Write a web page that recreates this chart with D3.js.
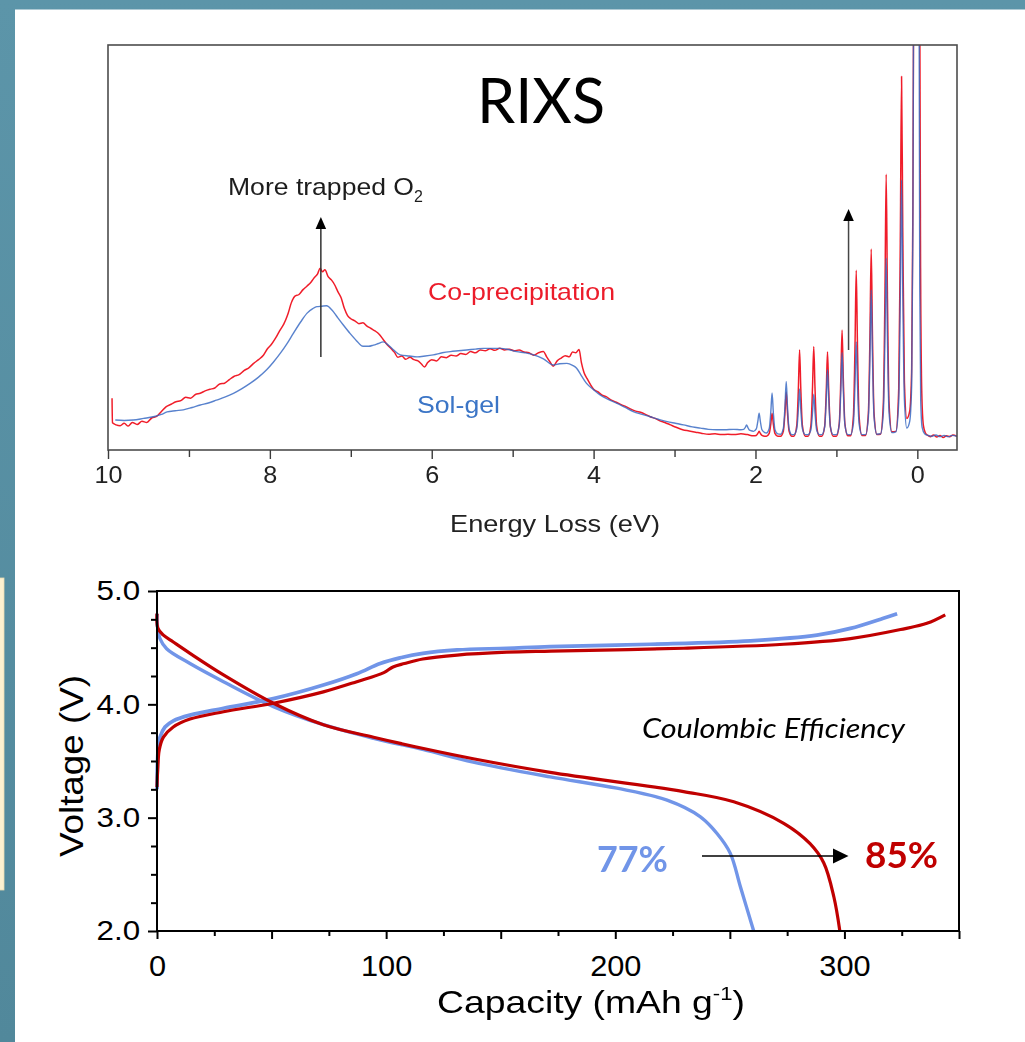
<!DOCTYPE html>
<html>
<head>
<meta charset="utf-8">
<script src="https://cdn.jsdelivr.net/npm/d3@7"></script>
<style>
  html, body { margin: 0; padding: 0; background: #5b93a7; }
  svg { display: block; }
</style>
</head>
<body>
<svg id="slide" width="1025" height="1042"></svg>
<script>
// ---------- RIXS spectra: [energy loss (eV), intensity (a.u.)] ----------
const coPrecipBroad = [
  [9.95,12.8],[9.945,6.7],[9.9,6.2],[9.85,6.0],[9.8,6.6],[9.75,5.9],[9.7,6.8],[9.64,6.3],[9.58,7.1],
  [9.52,6.8],[9.46,7.9],[9.4,8.3],[9.34,9.5],[9.28,10.7],[9.22,11.3],[9.16,11.9],[9.1,12.2],[9.04,13.0],
  [8.98,12.8],[8.92,13.7],[8.86,14.0],[8.8,14.6],[8.74,15.0],[8.68,15.3],[8.62,16.3],[8.56,16.5],
  [8.5,17.4],[8.44,18.2],[8.38,18.6],[8.32,19.6],[8.26,20.3],[8.2,21.4],[8.14,22.3],[8.08,23.4],
  [8.03,25.0],[7.98,26.1],[7.93,27.6],[7.88,29.4],[7.83,31.0],[7.78,33.4],[7.73,36.6],[7.69,38.0],
  [7.64,38.4],[7.59,39.6],[7.54,40.5],[7.49,41.5],[7.45,42.6],[7.41,43.5],[7.38,44.9],[7.35,44.0],
  [7.32,44.5],[7.28,42.8],[7.24,42.0],[7.2,40.8],[7.16,39.1],[7.12,37.6],[7.08,35.0],[7.04,33.2],
  [7.0,32.4],[6.95,31.9],[6.9,31.2],[6.85,31.4],[6.8,30.6],[6.75,30.0],[6.7,29.4],[6.65,28.6],
  [6.6,27.3],[6.55,26.0],[6.5,25.0],[6.46,24.1],[6.42,22.9],[6.37,23.2],[6.32,22.4],[6.27,22.9],
  [6.22,22.3],[6.17,22.0],[6.13,21.3],[6.09,20.5],[6.05,21.6],[6.0,22.3],[5.94,22.0],[5.88,23.0],
  [5.82,22.8],[5.76,23.4],[5.7,23.2],[5.64,23.8],[5.58,23.6],[5.52,24.3],[5.46,24.0],[5.4,24.7],
  [5.34,24.5],[5.28,25.0],[5.22,24.6],[5.16,25.1],[5.1,24.7],[5.04,24.9],[4.98,24.5],[4.92,24.7],
  [4.86,24.2],[4.8,24.0],[4.74,23.4],[4.68,24.0],[4.62,24.3],[4.58,23.0],[4.54,21.8],[4.5,20.7],
  [4.45,22.0],[4.4,22.7],[4.35,23.3],[4.3,23.0],[4.26,24.2],[4.22,24.0],[4.18,24.8],[4.15,21.5],
  [4.12,19.2],[4.08,17.6],[4.04,16.2],[4.0,15.0],[3.95,14.4],[3.9,13.6],[3.84,13.1],[3.78,12.3],
  [3.72,11.8],[3.66,11.2],[3.6,10.7],[3.54,10.1],[3.48,9.6],[3.42,9.3],[3.36,8.8],[3.3,8.2],
  [3.24,7.8],[3.18,7.2],[3.12,6.8],[3.05,6.2],[2.98,5.6],[2.9,5.0],[2.82,4.7],[2.74,4.4],[2.66,4.1],
  [2.58,3.9],[2.5,4.0],[2.42,3.8],[2.34,3.9],[2.26,3.8],[2.18,4.0],[2.1,3.8]
];
const solGelBroad = [
  [9.91,7.4],[9.8,7.3],[9.69,7.4],[9.56,7.8],[9.44,8.2],[9.34,8.8],[9.27,9.4],[9.17,9.7],[9.07,9.9],
  [8.96,10.5],[8.86,11.1],[8.76,11.6],[8.66,12.3],[8.55,13.1],[8.45,14.0],[8.35,15.1],[8.24,16.5],
  [8.14,18.0],[8.04,19.8],[7.96,21.6],[7.87,23.9],[7.79,26.2],[7.71,28.8],[7.62,31.6],[7.54,33.8],
  [7.47,34.9],[7.42,35.4],[7.36,35.5],[7.3,35.6],[7.23,34.5],[7.17,32.9],[7.09,30.8],[7.01,28.8],
  [6.93,27.0],[6.85,25.6],[6.78,25.6],[6.72,25.9],[6.66,26.3],[6.6,26.7],[6.53,25.8],[6.47,24.7],
  [6.39,23.5],[6.28,23.2],[6.18,23.0],[6.08,23.2],[5.98,23.5],[5.87,24.0],[5.77,24.3],[5.67,24.5],
  [5.57,24.7],[5.46,24.9],[5.36,25.1],[5.25,25.1],[5.15,25.1],[5.05,24.8],[4.95,24.3],[4.85,24.0],
  [4.74,23.5],[4.62,22.5],[4.5,21.0],[4.42,21.3],[4.33,21.4],[4.26,20.9],[4.21,20.2],[4.15,18.3],
  [4.09,16.5],[4.0,14.9],[3.92,13.6],[3.82,12.5],[3.71,11.5],[3.61,10.5],[3.51,9.5],[3.4,8.8],
  [3.3,8.2],[3.2,7.6],[3.09,7.0],[2.99,6.6],[2.89,6.2],[2.78,5.7],[2.68,5.4],[2.58,5.1],[2.48,5.0],
  [2.38,5.0],[2.27,5.1]
];
// Vibrational progression and the elastic line near 0 eV
const coPrecipPeaks = [
  [2.025,3.5],[1.99,3.6],[1.97,4.1],[1.955,4.6],[1.94,4.1],[1.92,3.6],[1.885,3.4],
  [1.865,3.4],[1.83,4.1],[1.81,6.5],[1.795,9.1],[1.78,6.5],[1.76,4.1],[1.725,3.4],
  [1.69,3.4],[1.655,4.7],[1.635,9.4],[1.62,14.3],[1.605,9.4],[1.585,4.7],[1.55,3.4],
  [1.525,3.4],[1.49,6.0],[1.47,15.1],[1.455,24.7],[1.44,15.1],[1.42,6.0],[1.385,3.4],
  [1.35,3.4],[1.315,6.1],[1.295,15.6],[1.28,25.5],[1.265,15.6],[1.245,6.1],[1.21,3.4],
  [1.18,3.4],[1.145,5.9],[1.125,14.8],[1.11,24.2],[1.095,14.8],[1.075,5.9],[1.04,3.4],
  [1.0,3.4],[0.965,6.5],[0.945,17.8],[0.93,29.6],[0.915,17.8],[0.895,6.5],[0.86,3.5],
  [0.825,3.5],[0.79,8.4],[0.77,26.0],[0.755,44.4],[0.74,26.0],[0.72,8.4],[0.685,3.6],
  [0.64,3.6],[0.605,9.1],[0.585,28.9],[0.57,49.6],[0.555,28.9],[0.535,9.1],[0.5,3.8],
  [0.455,3.9],[0.42,11.6],[0.40,39.0],[0.385,68.1],[0.37,39.0],[0.35,11.8],[0.315,4.5],
  [0.265,4.6],[0.23,15.2],[0.21,53.0],[0.195,92.2],[0.18,54.0],[0.16,17.0],[0.13,7.8],
  [0.095,9.5],[0.07,20],[0.055,60],[0.045,120],[0.03,200],[0.0,210],[-0.02,200],[-0.03,110],
  [-0.04,45],[-0.055,14],[-0.075,6.0],[-0.1,4.2],[-0.13,3.6],[-0.16,3.3],[-0.2,3.7],[-0.24,3.2],
  [-0.28,3.6],[-0.32,3.1],[-0.36,3.5],[-0.4,3.3],[-0.44,3.7],[-0.49,3.4]
];
const solGelPeaks = [
  [2.18,5.0],[2.145,5.1],[2.125,5.6],[2.11,6.2],[2.095,5.6],[2.075,4.9],[2.04,4.7],
  [2.025,4.6],[1.99,5.2],[1.97,7.2],[1.955,9.1],[1.94,7.1],[1.92,5.0],[1.885,4.3],
  [1.865,4.2],[1.83,5.3],[1.81,9.6],[1.795,14.1],[1.78,9.5],[1.76,5.1],[1.725,4.0],
  [1.69,3.9],[1.655,5.4],[1.635,11.0],[1.62,16.9],[1.605,10.9],[1.585,5.3],[1.55,3.8],
  [1.525,3.8],[1.49,5.2],[1.47,10.0],[1.455,15.1],[1.44,10.0],[1.42,5.2],[1.385,3.8],
  [1.35,3.8],[1.315,5.0],[1.295,9.3],[1.28,13.8],[1.265,9.3],[1.245,5.0],[1.21,3.8],
  [1.18,3.8],[1.145,5.7],[1.125,12.6],[1.11,19.8],[1.095,12.6],[1.075,5.7],[1.04,3.8],
  [1.0,3.8],[0.965,6.2],[0.945,14.9],[0.93,24.0],[0.915,14.9],[0.895,6.2],[0.86,3.8],
  [0.825,3.8],[0.79,6.5],[0.77,16.4],[0.755,26.7],[0.74,16.4],[0.72,6.5],[0.685,3.8],
  [0.64,3.8],[0.605,8.1],[0.585,23.4],[0.57,39.5],[0.555,23.4],[0.535,8.1],[0.5,3.9],
  [0.455,4.0],[0.42,9.2],[0.40,27.9],[0.385,47.4],[0.37,27.9],[0.35,9.4],[0.315,4.3],
  [0.265,4.5],[0.23,11.9],[0.21,38.7],[0.195,66.7],[0.18,38.9],[0.16,12.5],[0.13,5.4],
  [0.095,7.0],[0.07,16],[0.055,55],[0.045,120],[0.03,200],[0.0,210],[-0.015,200],[-0.022,110],
  [-0.03,40],[-0.042,12],[-0.06,5.5],[-0.09,4.0],[-0.13,3.6],[-0.18,3.4],[-0.23,3.7],[-0.28,3.3],
  [-0.33,3.6],[-0.38,3.3],[-0.43,3.6],[-0.49,3.4]
];
const energyTicks = [10,9,8,7,6,5,4,3,2,1,0];
const energyLabels = [10,8,6,4,2,0];

// ---------- Charge / discharge profiles: [capacity (mAh/g), voltage (V)] ----------
const solGelCharge = [
  [0,3.25],[0.15,3.45],[0.5,3.6],[1.3,3.71],[3.5,3.80],[7.1,3.855],[14.4,3.905],[29,3.965],
  [50.8,4.05],[72.6,4.17],[87.2,4.27],[97.4,4.36],[106,4.41],[116,4.45],[131,4.48],[152.7,4.495],
  [171.6,4.51],[215.3,4.53],[259,4.56],[288,4.61],[302.6,4.67],[317,4.76],[323,4.80]
];
const solGelDischarge = [
  [0,4.80],[0.3,4.67],[1.3,4.58],[4.2,4.49],[14.4,4.36],[29,4.20],[50.8,3.98],[72.6,3.82],
  [94.5,3.70],[116.3,3.60],[138,3.49],[171.6,3.36],[200.7,3.26],[222.6,3.155],[237,3.01],
  [244.4,2.86],[250.2,2.685],[254.6,2.39],[260.4,2.0]
];
const coPrecipCharge = [
  [0,3.27],[0.3,3.42],[1,3.60],[2.8,3.71],[7.1,3.80],[14.4,3.87],[29,3.935],[50.8,4.01],
  [72.6,4.11],[87.2,4.20],[99,4.28],[103,4.33],[108,4.36],[116,4.40],[131,4.435],[152.7,4.46],
  [172,4.47],[229.8,4.495],[273.5,4.53],[302.6,4.58],[324.5,4.66],[336,4.715],[344,4.79]
];
const coPrecipDischarge = [
  [0,4.80],[0.4,4.67],[2.8,4.61],[7.1,4.55],[14.4,4.45],[29,4.26],[50.8,4.01],[72.6,3.82],
  [94.5,3.71],[116.3,3.61],[138,3.52],[171.6,3.40],[229.8,3.23],[251.7,3.14],[273.5,2.95],
  [285,2.77],[291,2.60],[295.4,2.30],[298,2.0]
];
const efficiencyLabels = ["77%", "85%"];
const voltageTicks = d3.range(2, 5.0001, 0.25);
const capacityTicks = d3.range(0, 350.001, 25);
const capacityLabels = [0, 100, 200, 300];

const svg = d3.select("#slide");
const helv = "Liberation Sans, Arial, sans-serif";
const humanist = "Lato, 'Open Sans', sans-serif";

// ---------- slide background ----------
const defs = svg.append("defs");
const grad = defs.append("linearGradient").attr("id", "teal").attr("x1", 0).attr("y1", 0).attr("x2", 0).attr("y2", 1);
grad.append("stop").attr("offset", "0%").attr("stop-color", "#5c95a9");
grad.append("stop").attr("offset", "100%").attr("stop-color", "#51889b");
svg.append("rect").attr("width", 1025).attr("height", 1042).attr("fill", "url(#teal)");
svg.append("rect").attr("x", 15).attr("y", 9.5).attr("width", 1010).attr("height", 1033).attr("fill", "#ffffff");
svg.append("rect").attr("x", -1).attr("y", 578).attr("width", 5).attr("height", 312)
  .attr("fill", "#fdf1d0").attr("stroke", "#e9dcb2").attr("stroke-width", 0.8);

// ---------- RIXS panel ----------
const rixsBox = { left: 108, right: 957, top: 45, bottom: 450 };
const xE = d3.scaleLinear().domain([10, -0.49]).range([rixsBox.left, rixsBox.right]);
const yI = d3.scaleLinear().domain([0, 100]).range([rixsBox.bottom, rixsBox.top]);

defs.append("clipPath").attr("id", "rixsClip").append("rect")
  .attr("x", rixsBox.left).attr("y", rixsBox.top)
  .attr("width", rixsBox.right - rixsBox.left).attr("height", rixsBox.bottom - rixsBox.top);
defs.append("filter").attr("id", "soft").attr("x", -0.05).attr("y", -0.05).attr("width", 1.1).attr("height", 1.1)
  .append("feGaussianBlur").attr("stdDeviation", 0.45);

const rixs = svg.append("g").attr("filter", "url(#soft)");
const specLine = d3.line().x(d => xE(d[0])).y(d => yI(d[1])).curve(d3.curveMonotoneX);
const plot = rixs.append("g").attr("clip-path", "url(#rixsClip)");
plot.append("path").datum(coPrecipBroad.concat(coPrecipPeaks)).attr("d", specLine)
  .attr("fill", "none").attr("stroke", "#f01e2a").attr("stroke-width", 1.5).attr("stroke-linejoin", "round");
plot.append("path").datum(solGelBroad.concat(solGelPeaks)).attr("d", specLine)
  .attr("fill", "none").attr("stroke", "#3566c2").attr("stroke-opacity", 0.82).attr("stroke-width", 1.4).attr("stroke-linejoin", "round");

rixs.append("rect").attr("x", rixsBox.left).attr("y", rixsBox.top)
  .attr("width", rixsBox.right - rixsBox.left).attr("height", rixsBox.bottom - rixsBox.top)
  .attr("fill", "none").attr("stroke", "#4d4d4d").attr("stroke-width", 1.6);

const xAxisTop = d3.axisBottom(xE).tickValues(energyTicks)
  .tickSize(9).tickPadding(7)
  .tickFormat(d => energyLabels.includes(d) ? String(d) : "");
const gx = rixs.append("g").attr("transform", `translate(0,${rixsBox.bottom})`).call(xAxisTop);
gx.select(".domain").remove();
gx.selectAll(".tick line").attr("stroke", "#3a3a3a").attr("stroke-width", 1.4)
  .attr("y2", d => energyLabels.includes(d) ? 9 : 7);
gx.selectAll(".tick text").attr("font-family", helv).attr("font-size", 24).attr("fill", "#222")
  .attr("transform", "scale(1.05,1)");

rixs.append("text").attr("x", 555).attr("y", 532).attr("text-anchor", "middle")
  .attr("font-family", helv).attr("font-size", 24).attr("fill", "#222")
  .attr("textLength", 210).attr("lengthAdjust", "spacingAndGlyphs").text("Energy Loss (eV)");

const o2 = rixs.append("text").attr("x", 228).attr("y", 195)
  .attr("font-family", helv).attr("font-size", 24).attr("fill", "#1e1e1e");
o2.append("tspan").attr("textLength", 186).attr("lengthAdjust", "spacingAndGlyphs").text("More trapped O");
o2.append("tspan").attr("font-size", 16).attr("dy", 7).text("2");

rixs.append("text").attr("x", 428).attr("y", 300)
  .attr("font-family", helv).attr("font-size", 24).attr("fill", "#ec1f2c")
  .attr("textLength", 187).attr("lengthAdjust", "spacingAndGlyphs").text("Co-precipitation");
rixs.append("text").attr("x", 417).attr("y", 413)
  .attr("font-family", helv).attr("font-size", 24).attr("fill", "#3a74c6")
  .attr("textLength", 83).attr("lengthAdjust", "spacingAndGlyphs").text("Sol-gel");

// upward arrows marking growth in the O2 features
function upArrow(g, x, y0, y1, color) {
  g.append("line").attr("x1", x).attr("x2", x).attr("y1", y0).attr("y2", y1 + 10)
    .attr("stroke", color).attr("stroke-width", 1.5);
  g.append("path").attr("d", `M${x},${y1} L${x - 5.3},${y1 + 12} L${x + 5.3},${y1 + 12} Z`).attr("fill", "#000");
}
upArrow(rixs, xE(7.37), 357, 217, "#333");
upArrow(rixs, xE(0.85), 350, 209, "#444");

svg.append("text").attr("x", 477).attr("y", 123)
  .attr("font-family", humanist).attr("font-size", 62).attr("fill", "#000")
  .attr("textLength", 128).attr("lengthAdjust", "spacingAndGlyphs").text("RIXS");

// ---------- electrochemistry panel ----------
const ecBox = { left: 157, right: 959, top: 591, bottom: 931 };
const xC = d3.scaleLinear().domain([0, 350]).range([ecBox.left, ecBox.right]);
const yV = d3.scaleLinear().domain([2, 5]).range([ecBox.bottom, ecBox.top]);
const ec = svg.append("g");

const vLine = d3.line().x(d => xC(d[0])).y(d => yV(d[1])).curve(d3.curveCatmullRom.alpha(0.5));
[[solGelCharge, "#7195e8", 3.7], [solGelDischarge, "#7195e8", 3.4],
 [coPrecipCharge, "#c00000", 3.2], [coPrecipDischarge, "#c00000", 3.2]].forEach(([data, color, w]) => {
  ec.append("path").datum(data).attr("d", vLine).attr("fill", "none")
    .attr("stroke", color).attr("stroke-width", w).attr("stroke-linecap", "butt");
});

ec.append("rect").attr("x", ecBox.left).attr("y", ecBox.top)
  .attr("width", ecBox.right - ecBox.left).attr("height", ecBox.bottom - ecBox.top)
  .attr("fill", "none").attr("stroke", "#000").attr("stroke-width", 2);

const isInt = v => Math.abs(v - Math.round(v)) < 1e-6;
const yAxis = d3.axisLeft(yV).tickValues(voltageTicks).tickSize(9).tickPadding(6)
  .tickFormat(d => isInt(d) ? d3.format(".1f")(d) : "");
const gy = ec.append("g").attr("transform", `translate(${ecBox.left},0)`).call(yAxis);
gy.select(".domain").remove();
gy.selectAll(".tick line").attr("stroke", "#000").attr("stroke-width", 2).attr("x2", d => isInt(d) ? -9 : -6);
gy.selectAll(".tick text").attr("font-family", helv).attr("font-size", 28).attr("fill", "#000")
  .attr("transform", "scale(1.12,1)");

const xAxis = d3.axisBottom(xC).tickValues(capacityTicks).tickSize(8).tickPadding(16)
  .tickFormat(d => capacityLabels.includes(d) ? String(d) : "");
const gb = ec.append("g").attr("transform", `translate(0,${ecBox.bottom})`).call(xAxis);
gb.select(".domain").remove();
gb.selectAll(".tick line").attr("stroke", "#000").attr("stroke-width", 2).attr("y2", d => d % 50 === 0 ? 8 : 5);
gb.selectAll(".tick text").attr("font-family", helv).attr("font-size", 29).attr("fill", "#000")
  .attr("transform", "scale(1.06,1)");

ec.append("text").attr("transform", "translate(83,766) rotate(-90)").attr("text-anchor", "middle")
  .attr("font-family", helv).attr("font-size", 33).attr("fill", "#000")
  .attr("textLength", 182).attr("lengthAdjust", "spacingAndGlyphs").text("Voltage (V)");

const cap = ec.append("text").attr("x", 437).attr("y", 1013)
  .attr("font-family", helv).attr("font-size", 32).attr("fill", "#000")
  .attr("textLength", 308).attr("lengthAdjust", "spacingAndGlyphs");
cap.append("tspan").text("Capacity (mAh g");
cap.append("tspan").attr("font-size", 19).attr("dy", -13).text("-1");
cap.append("tspan").attr("dy", 13).text(")");

ec.append("text").attr("x", 642).attr("y", 738)
  .attr("font-family", humanist).attr("font-style", "italic").attr("font-size", 27)
  .attr("fill", "#000").attr("textLength", 263).attr("lengthAdjust", "spacingAndGlyphs").text("Coulombic Efficiency");

ec.append("text").attr("x", 597).attr("y", 871.5)
  .attr("font-family", humanist).attr("font-weight", 700).attr("font-size", 36)
  .attr("fill", "#7195e8").attr("textLength", 71).attr("lengthAdjust", "spacingAndGlyphs").text(efficiencyLabels[0]);
ec.append("text").attr("x", 865).attr("y", 867.5)
  .attr("font-family", humanist).attr("font-weight", 700).attr("font-size", 36)
  .attr("fill", "#c00000").attr("textLength", 73).attr("lengthAdjust", "spacingAndGlyphs").text(efficiencyLabels[1]);

ec.append("line").attr("x1", 702).attr("x2", 836).attr("y1", 856).attr("y2", 856)
  .attr("stroke", "#000").attr("stroke-width", 1.6);
ec.append("path").attr("d", "M833,848.5 L848.5,856 L833,863.5 Z").attr("fill", "#000");
</script>
</body>
</html>
